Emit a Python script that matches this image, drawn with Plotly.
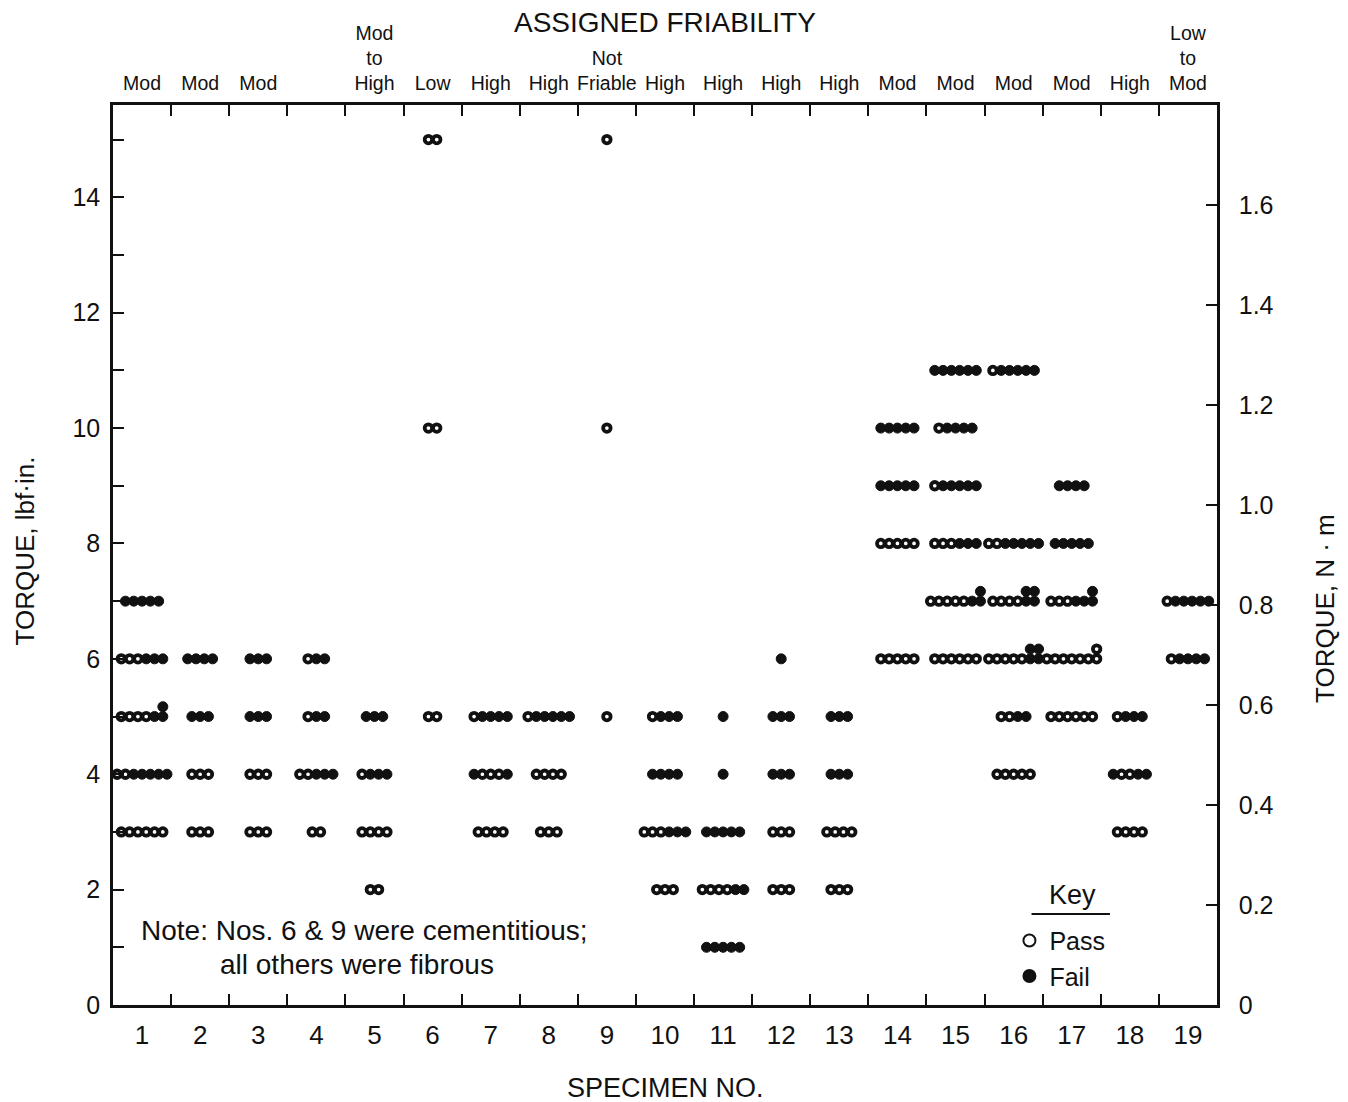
import plotly.graph_objects as go

# ---------------- data ----------------
specimens = list(range(1, 20))
friability = ["Mod", "Mod", "Mod", "", "Mod<br>to<br>High", "Low", "High", "High",
              "Not<br>Friable", "High", "High", "High", "High", "Mod", "Mod", "Mod",
              "Mod", "High", "Low<br>to<br>Mod"]

# one row of results per (specimen, torque); o = pass, x = fail,
# X = fail plus a stacked fail, P = pass plus a stacked pass
row_specimen = [1, 1, 1, 1, 1,
                2, 2, 2, 2,
                3, 3, 3, 3,
                4, 4, 4, 4,
                5, 5, 5, 5,
                6, 6, 6,
                7, 7, 7,
                8, 8, 8,
                9, 9, 9,
                10, 10, 10, 10,
                11, 11, 11, 11, 11,
                12, 12, 12, 12, 12,
                13, 13, 13, 13,
                14, 14, 14, 14,
                15, 15, 15, 15, 15, 15,
                16, 16, 16, 16, 16, 16,
                17, 17, 17, 17, 17,
                18, 18, 18,
                19, 19]
row_torque = [7, 6, 5, 4, 3,
              6, 5, 4, 3,
              6, 5, 4, 3,
              6, 5, 4, 3,
              5, 4, 3, 2,
              15, 10, 5,
              5, 4, 3,
              5, 4, 3,
              15, 10, 5,
              5, 4, 3, 2,
              5, 4, 3, 2, 1,
              6, 5, 4, 3, 2,
              5, 4, 3, 2,
              10, 9, 8, 6,
              11, 10, 9, 8, 7, 6,
              11, 8, 7, 6, 5, 4,
              9, 8, 7, 6, 5,
              5, 4, 3,
              7, 6]
row_results = ["xxxxx", "oooxxx", "ooooxX", "ooxxxxx", "oooooo",
               "xxxx", "xxx", "ooo", "ooo",
               "xxx", "xxx", "ooo", "ooo",
               "oxx", "oxx", "ooxxx", "oo",
               "xxx", "oxxx", "oooo", "oo",
               "oo", "oo", "oo",
               "oxxxx", "xooox", "oooo",
               "oxxxxx", "oooo", "ooo",
               "o", "o", "o",
               "oxxx", "xxxx", "oooxxx", "ooo",
               "x", "x", "xxxxx", "ooooxx", "xxxxx",
               "x", "xxx", "xxx", "ooo", "ooo",
               "xxx", "xxx", "oooo", "ooo",
               "xxxxx", "xxxxx", "ooooo", "ooooo",
               "xxxxxx", "oxxxx", "oxxxxx", "oooxxx", "oooooxX", "oooooo",
               "oxxxxx", "ooxxxxx", "ooooXX", "oooooXX", "ooxx", "ooooo",
               "xxxx", "xxxxx", "oooxxX", "ooooooP", "oooooo",
               "oxxx", "xooxx", "oooo",
               "oxxxxx", "oxxxx"]

nm_ticks = [0, 0.2, 0.4, 0.6, 0.8, 1.0, 1.2, 1.4, 1.6]
nm_labels = ["0", "0.2", "0.4", "0.6", "0.8", "1.0", "1.2", "1.4", "1.6"]

# ---------------- build marker positions ----------------
SPACING = 0.143
RAISE = 0.17
pass_x, pass_y, fail_x, fail_y = [], [], [], []
for s, t, r in zip(row_specimen, row_torque, row_results):
    n = len(r)
    for i, ch in enumerate(r):
        x = s + (i - (n - 1) / 2) * SPACING
        if ch == "o":
            pass_x.append(x); pass_y.append(t)
        elif ch == "x":
            fail_x.append(x); fail_y.append(t)
        elif ch == "X":
            fail_x += [x, x]; fail_y += [t, t + RAISE]
        elif ch == "P":
            pass_x += [x, x]; pass_y += [t, t + RAISE]

FONT = "Liberation Sans, Arial, Helvetica, sans-serif"
INK = "#111111"

fig = go.Figure()
fig.add_trace(go.Scatter(
    x=pass_x, y=pass_y, mode="markers", name="Pass",
    marker=dict(symbol="circle", size=7.5, color="white",
                line=dict(color=INK, width=3.8)),
    hoverinfo="skip"))
fig.add_trace(go.Scatter(
    x=fail_x, y=fail_y, mode="markers", name="Fail",
    marker=dict(symbol="circle", size=10, color=INK,
                line=dict(color=INK, width=1)),
    hoverinfo="skip"))
# invisible anchor trace for the secondary (top / right) axes
fig.add_trace(go.Scatter(x=[1], y=[0.5], xaxis="x2", yaxis="y2", mode="markers",
                         marker=dict(opacity=0), showlegend=False, hoverinfo="skip"))

boundaries = [i + 0.5 for i in range(1, 19)]
axis_common = dict(showline=True, linewidth=2.5, linecolor=INK, showgrid=False,
                   zeroline=False)

fig.update_layout(
    width=1348, height=1102,
    margin=dict(l=113, r=131, t=105, b=97),
    paper_bgcolor="white", plot_bgcolor="white",
    font=dict(family=FONT, color=INK),
    xaxis=dict(range=[0.5, 19.5], tickmode="array", tickvals=specimens,
               ticktext=[str(s) for s in specimens], ticks="",
               tickfont=dict(size=26), ticklabelstandoff=5,
               minor=dict(tickmode="array", tickvals=boundaries, ticks="inside",
                          ticklen=11, tickwidth=2, tickcolor=INK),
               **axis_common),
    xaxis2=dict(range=[0.5, 19.5], overlaying="x", side="top", anchor="y",
                tickmode="array", tickvals=specimens, ticktext=friability, ticks="",
                tickfont=dict(size=19.5), ticklabelstandoff=4,
                minor=dict(tickmode="array", tickvals=boundaries, ticks="inside",
                           ticklen=11, tickwidth=2, tickcolor=INK),
                **axis_common),
    yaxis=dict(range=[0, 15.6], tickmode="array", tickvals=list(range(0, 15, 2)),
               ticks="inside", ticklen=11, tickwidth=2, tickcolor=INK,
               tickfont=dict(size=25), ticklabelstandoff=5,
               minor=dict(tickmode="array", tickvals=list(range(1, 16, 2)),
                          ticks="inside", ticklen=11, tickwidth=2, tickcolor=INK),
               **axis_common),
    yaxis2=dict(range=[0, 1.8], overlaying="y", side="right", anchor="x",
                tickmode="array", tickvals=nm_ticks, ticktext=nm_labels,
                ticks="inside", ticklen=11, tickwidth=2, tickcolor=INK,
                tickfont=dict(size=25), ticklabelstandoff=14,
                **axis_common),
    legend=dict(x=0.812, y=0.097, xanchor="left", yanchor="top",
                bgcolor="rgba(0,0,0,0)", font=dict(size=25),
                itemsizing="constant", tracegroupgap=0),
    showlegend=True,
)

fig.update_layout(annotations=[
    dict(text="ASSIGNED FRIABILITY", x=0.5, y=1, xref="paper", yref="paper",
         xanchor="center", yanchor="bottom", yshift=65, showarrow=False,
         font=dict(size=28)),
    dict(text="SPECIMEN NO.", x=0.5, y=0, xref="paper", yref="paper",
         xanchor="center", yanchor="top", yshift=-66, showarrow=False,
         font=dict(size=27)),
    dict(text="TORQUE, lbf·in.", x=0, y=0.504, xref="paper", yref="paper",
         xanchor="center", yanchor="middle", xshift=-88, textangle=-90,
         showarrow=False, font=dict(size=26)),
    dict(text="TORQUE, N · m", x=1, y=0.44, xref="paper", yref="paper",
         xanchor="center", yanchor="middle", xshift=108, textangle=-90,
         showarrow=False, font=dict(size=26)),
    dict(text="Note: Nos. 6 & 9 were cementitious;", x=0.024, y=0.083,
         xref="paper", yref="paper", xanchor="left", yanchor="middle",
         showarrow=False, font=dict(size=28)),
    dict(text="all others were fibrous", x=0.095, y=0.045,
         xref="paper", yref="paper", xanchor="left", yanchor="middle",
         showarrow=False, font=dict(size=28)),
    dict(text="Key", x=0.8687, y=0.122, xref="paper", yref="paper",
         xanchor="center", yanchor="middle", showarrow=False,
         font=dict(size=27)),
])

fig.add_shape(type="line", xref="paper", yref="paper",
              x0=0.832, x1=0.903, y0=0.101, y1=0.101,
              line=dict(color=INK, width=2))

fig.write_html("out.html")
